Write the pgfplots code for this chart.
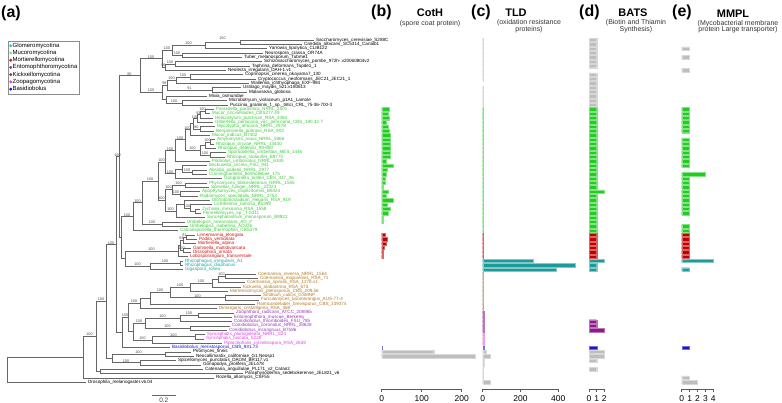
\documentclass[border=0pt]{standalone}
\usepackage{pgfplots}
\pgfplotsset{compat=1.18}
\usepackage{fontspec}
\setmainfont{Liberation Sans}
\definecolor{cMuco}{HTML}{3CC83C}
\definecolor{cMort}{HTML}{CC1111}
\definecolor{cGlom}{HTML}{1FA3A3}
\definecolor{cEnto}{HTML}{9933BB}
\definecolor{cKick}{HTML}{B07828}
\definecolor{cZoop}{HTML}{E040E0}
\definecolor{cBasi}{HTML}{1010CC}
\definecolor{bGray}{HTML}{BEBEBE}
\definecolor{bGreen}{HTML}{22CC22}
\definecolor{bRed}{HTML}{C00000}
\definecolor{bCyan}{HTML}{1E9A9A}
\definecolor{bPurp}{HTML}{8B1A8B}
\definecolor{bBlue}{HTML}{1515CC}
\definecolor{bBrown}{HTML}{A07840}
\definecolor{bPink}{HTML}{E060E0}
\definecolor{lGlom}{HTML}{40C4C4}
\definecolor{lMuco}{HTML}{8EE68E}
\definecolor{lMort}{HTML}{CC2222}
\definecolor{lEnto}{HTML}{7B3F8F}
\definecolor{lKick}{HTML}{6E4518}
\definecolor{lZoop}{HTML}{E040C0}
\definecolor{lBasi}{HTML}{1010CC}
\tikzset{lfs/.style={anchor=west,inner sep=0.4bp,font=\fontsize{4.6}{4.6}\selectfont},
 bss/.style={anchor=south,inner sep=0.2bp,font=\fontsize{3.8}{3.8}\selectfont,text=black!70}}
\newcommand\lf[4][black]{\node[lfs,text=#1] at (axis cs:#2,-#3) {#4};}
\newcommand\bs[3]{\node[bss] at (axis cs:#1,-#2) {#3};}
\pgfplotsset{
 barax/.style={scale only axis, height=351.16bp, ymin=-81.6, ymax=-0.5, xmin=0,
  enlargelimits=false, clip=false, axis x line*=bottom, axis y line=none, ytick=\empty,
  x axis line style={-,black!65,line width=0.45bp}, tick style={black!65,line width=0.45bp},
  tick align=outside, major tick length=3bp, xbar, bar width=0.8, bar shift=0pt,
  tick label style={font=\fontsize{8.5}{9}\selectfont},
  /pgf/number format/assume math mode=true, anchor=north west},
 gB/.style={fill=bGray, draw=bGray!60!white, line width=0.3bp},
 grB/.style={fill=bGreen, draw=bGreen!55!white, line width=0.3bp},
 rB/.style={fill=bRed, draw=bRed!60!white, line width=0.3bp},
 cB/.style={fill=bCyan, draw=bCyan!55!white, line width=0.3bp},
 pB/.style={fill=bPurp, draw=bPurp!60!white, line width=0.3bp},
 bB/.style={fill=bBlue, draw=bBlue!60!white, line width=0.3bp},
 brB/.style={fill=bBrown, draw=bBrown!60!white, line width=0.3bp},
 pkB/.style={fill=bPink, draw=bPink!60!white, line width=0.3bp},
}
\begin{document}
\begin{tikzpicture}
\useasboundingbox (0,0) rectangle (782bp,403bp);
% ---------------- tree ----------------
\begin{axis}[scale only axis, width=380bp, height=351.16bp, at={(0bp,365.17bp)}, anchor=north west,
 xmin=0, xmax=380, ymin=-81.6, ymax=-0.5, hide axis, clip=false,
 legend style={at={(axis cs:7.8,-1.2)}, anchor=north west, draw=black!45, line width=0.4bp,
  font=\fontsize{6}{6}\selectfont, inner xsep=1.5bp, inner ysep=1.2bp, row sep=0.2bp,
  cells={anchor=west}, nodes={inner sep=0.6bp}},
 legend image code/.code={\draw[#1] plot[mark=*, mark size=1.25bp] coordinates {(0.06cm,0cm)};}]
\addplot[forget plot, black!60, line width=0.4bp, mark=none, unbounded coords=jump] coordinates {
(314,-1) (240,-1) (240,-2) (302,-2) (nan,nan)
(240,-1.5) (205,-1.5) (205,-3) (267,-3) (nan,nan)
(263,-4) (182,-4) (182,-5) (242,-5) (nan,nan)
(205,-2.25) (172,-2.25) (172,-4.5) (182,-4.5) (nan,nan)
(262,-6) (175,-6) (175,-7) (250,-7) (nan,nan)
(175,-6.5) (165,-6.5) (165,-8) (226,-8) (nan,nan)
(172,-3.375) (162,-3.375) (162,-7.25) (165,-7.25) (nan,nan)
(243,-9) (190,-9) (190,-10) (256,-10) (nan,nan)
(190,-9.5) (176,-9.5) (176,-11) (249,-11) (nan,nan)
(241,-12) (212,-12) (212,-13) (247,-13) (nan,nan)
(176,-10.25) (167,-10.25) (167,-12.5) (212,-12.5) (nan,nan)
(227,-15) (182,-15) (182,-16) (228,-16) (nan,nan)
(207,-14) (166,-14) (166,-15.5) (182,-15.5) (nan,nan)
(167,-11.375) (162,-11.375) (162,-14.75) (166,-14.75) (nan,nan)
(162,-5.31) (140,-5.31) (140,-13.06) (162,-13.06) (nan,nan)
(214,-17) (205,-17) (205,-18) (210,-18) (nan,nan)
(205,-17.5) (200,-17.5) (200,-19) (213,-19) (nan,nan)
(200,-18.25) (197,-18.25) (197,-20) (213,-20) (nan,nan)
(215,-21) (200,-21) (200,-22) (214,-22) (nan,nan)
(197,-19.125) (193,-19.125) (193,-21.5) (200,-21.5) (nan,nan)
(193,-20.31) (190,-20.31) (190,-23) (210,-23) (nan,nan)
(215,-24) (210,-24) (210,-25) (214,-25) (nan,nan)
(210,-24.5) (205,-24.5) (205,-26) (216,-26) (nan,nan)
(226,-27) (210,-27) (210,-28) (225,-28) (nan,nan)
(205,-25.25) (200,-25.25) (200,-27.5) (210,-27.5) (nan,nan)
(190,-21.66) (185,-21.66) (185,-26.375) (200,-26.375) (nan,nan)
(185,-24.02) (175,-24.02) (175,-29) (210,-29) (nan,nan)
(207,-31) (192,-31) (192,-32) (207,-32) (nan,nan)
(207,-30) (182,-30) (182,-31.5) (192,-31.5) (nan,nan)
(182,-30.75) (175,-30.75) (175,-33) (222,-33) (nan,nan)
(175,-26.51) (165,-26.51) (165,-31.875) (175,-31.875) (nan,nan)
(207,-34) (185,-34) (185,-35) (209,-35) (nan,nan)
(200,-36) (180,-36) (180,-37) (198,-37) (nan,nan)
(185,-34.5) (172,-34.5) (172,-36.5) (180,-36.5) (nan,nan)
(200,-40) (195,-40) (195,-41) (201,-41) (nan,nan)
(212,-39) (190,-39) (190,-40.5) (195,-40.5) (nan,nan)
(210,-38) (184,-38) (184,-39.75) (190,-39.75) (nan,nan)
(184,-38.875) (176,-38.875) (176,-42) (205,-42) (nan,nan)
(172,-35.5) (165,-35.5) (165,-40.44) (176,-40.44) (nan,nan)
(165,-29.19) (158,-29.19) (158,-37.97) (165,-37.97) (nan,nan)
(185,-43) (162,-43) (162,-44) (188,-44) (nan,nan)
(158,-33.58) (142,-33.58) (142,-43.5) (162,-43.5) (nan,nan)
(142,-38.54) (133,-38.54) (133,-45) (178,-45) (nan,nan)
(195,-46) (186,-46) (186,-47) (197,-47) (nan,nan)
(186,-46.5) (183,-46.5) (183,-48) (196,-48) (nan,nan)
(191,-49) (183,-49) (183,-50) (191,-50) (nan,nan)
(183,-47.25) (180,-47.25) (180,-49.5) (183,-49.5) (nan,nan)
(180,-48.375) (178,-48.375) (178,-51) (188,-51) (nan,nan)
(183,-52) (180,-52) (180,-53) (183,-53) (nan,nan)
(180,-52.5) (150,-52.5) (150,-54) (183,-54) (nan,nan)
(178,-49.69) (125,-49.69) (125,-53.25) (150,-53.25) (nan,nan)
(133,-41.77) (121,-41.77) (121,-51.47) (125,-51.47) (nan,nan)
(140,-9.19) (119,-9.19) (119,-46.62) (121,-46.62) (nan,nan)
(256,-55) (225,-55) (225,-56) (258,-56) (nan,nan)
(225,-55.5) (218,-55.5) (218,-57) (245,-57) (nan,nan)
(218,-56.25) (212,-56.25) (212,-58) (241,-58) (nan,nan)
(212,-57.125) (190,-57.125) (190,-59) (228,-59) (nan,nan)
(261,-60) (225,-60) (225,-61) (259,-61) (nan,nan)
(190,-58.06) (170,-58.06) (170,-60.5) (225,-60.5) (nan,nan)
(170,-59.28) (150,-59.28) (150,-62) (255,-62) (nan,nan)
(150,-60.64) (140,-60.64) (140,-63) (217,-63) (nan,nan)
(234,-64) (198,-64) (198,-65) (232,-65) (nan,nan)
(198,-64.5) (180,-64.5) (180,-66) (232,-66) (nan,nan)
(230,-67) (190,-67) (190,-68) (227,-68) (nan,nan)
(180,-65.25) (145,-65.25) (145,-67.5) (190,-67.5) (nan,nan)
(205,-69) (195,-69) (195,-70) (204,-70) (nan,nan)
(195,-69.5) (152,-69.5) (152,-71) (222,-71) (nan,nan)
(145,-66.375) (133,-66.375) (133,-70.25) (152,-70.25) (nan,nan)
(140,-61.82) (128,-61.82) (128,-68.31) (133,-68.31) (nan,nan)
(128,-65.07) (122,-65.07) (122,-72) (170,-72) (nan,nan)
(119,-27.9) (116,-27.9) (116,-68.53) (122,-68.53) (nan,nan)
(191,-73) (165,-73) (165,-74) (194,-74) (nan,nan)
(176,-75) (140,-75) (140,-76) (201,-76) (nan,nan)
(165,-73.5) (112,-73.5) (112,-75.5) (140,-75.5) (nan,nan)
(116,-48.22) (106,-48.22) (106,-74.5) (112,-74.5) (nan,nan)
(203,-77) (100,-77) (100,-78) (243,-78) (nan,nan)
(106,-61.36) (96,-61.36) (96,-77.5) (100,-77.5) (nan,nan)
(96,-69.43) (83,-69.43) (83,-79) (214,-79) (nan,nan)
(83,-74.22) (7,-74.22) (7,-80) (86,-80)
};
\addplot[forget plot, black!60, line width=0.5bp, mark=none] coordinates {(151.7,-82.99) (176,-82.99)};
\node[font=\fontsize{6.5}{6.5}\selectfont, text=black!75, inner sep=0] at (axis cs:163.8,-84.1) {0.2};
\addlegendimage{lGlom}\addlegendentry{Glomeromycotina}
\addlegendimage{lMuco}\addlegendentry{Mucoromycotina}
\addlegendimage{lMort}\addlegendentry{Mortierellomycotina}
\addlegendimage{lEnto}\addlegendentry{Entomophthoromycotina}
\addlegendimage{lKick}\addlegendentry{Kickxellomycotina}
\addlegendimage{lZoop}\addlegendentry{Zoopagomycotina}
\addlegendimage{lBasi}\addlegendentry{Basidiobolus}
% leaf labels
\lf{315.5}{1}{Saccharomyces\_cerevisiae\_S288C}
\lf{303.5}{2}{Candida\_albicans\_SC5314\_Canalb1}
\lf{268.5}{3}{Yarrowia\_lipolytica\_CLIB122}
\lf{264.5}{4}{Neurospora\_crassa\_OR74A}
\lf{243.5}{5}{Tuber\_melanosporum\_Tubme1}
\lf{263.5}{6}{Schizosaccharomyces\_pombe\_972h-.v20060804v2}
\lf{251.5}{7}{Taphrina\_deformans\_Tapde1\_1}
\lf{227.5}{8}{Neolecta\_irregularis\_DAH-1.v1}
\lf{244.5}{9}{Coprinopsis\_cinerea\_okayama7\_130}
\lf{257.5}{10}{Cryptococcus\_neoformans\_JEC21\_JEC21\_1}
\lf{250.5}{11}{Wallemia\_ichthyophaga\_EXF-994}
\lf{242.5}{12}{Ustilago\_maydis\_521.v180613}
\lf{248.5}{13}{Malassezia\_globosa}
\lf{208.5}{14}{Mixia\_osmundae}
\lf{228.5}{15}{Microbotryum\_violaceum\_p1A1\_Lamole}
\lf{229.5}{16}{Puccinia\_graminis\_f.\_sp.\_tritici\_CRL\_75-36-700-3}
\lf[cMuco]{215.5}{17}{Parasitella\_parasitica\_NRRL\_2501}
\lf[cMuco]{211.5}{18}{Mucor\_circinelloides\_CBS277.49}
\lf[cMuco]{214.5}{19}{Helicostylum\_pulchrum\_RSA\_2064}
\lf[cMuco]{214.5}{20}{Gilbertella\_persicaria\_var.\_persicaria\_CBS\_190.32-T}
\lf[cMuco]{216.5}{21}{Mycotypha\_africana\_NRRL\_2978}
\lf[cMuco]{215.5}{22}{Benjaminiella\_poitrasii\_RSA\_903}
\lf[cMuco]{211.5}{23}{Mucor\_indicus\_B7402}
\lf[cMuco]{216.5}{24}{Amylomyces\_rouxii\_NRRL\_5866}
\lf[cMuco]{215.5}{25}{Rhizopus\_oryzae\_NRRL\_13440}
\lf[cMuco]{217.5}{26}{Rhizopus\_delemar\_99-880}
\lf[cMuco]{227.5}{27}{Sporodiniella\_umbellata\_MES\_1446}
\lf[cMuco]{226.5}{28}{Rhizopus\_stolonifer\_B9770}
\lf[cMuco]{211.5}{29}{Pilobolus\_umbonatus\_NRRL\_6349}
\lf[cMuco]{208.5}{30}{Backusella\_circina\_FSU\_941}
\lf[cMuco]{208.5}{31}{Absidia\_padenii\_NRRL\_2977}
\lf[cMuco]{208.5}{32}{Cunninghamella\_bertholletiae\_175}
\lf[cMuco]{223.5}{33}{Gongronella\_butleri\_CBS\_337\_36}
\lf[cMuco]{208.5}{34}{Phycomyces\_blakesleeanus\_NRRL\_1555}
\lf[cMuco]{210.5}{35}{Spinellus\_fusiger\_NRRL\_22323}
\lf[cMuco]{201.5}{36}{Apophysomyces\_trapeziformis\_B9324}
\lf[cMuco]{199.5}{37}{Radiomyces\_spectabilis\_NRRL\_2753}
\lf[cMuco]{211.5}{38}{Dichotomocladium\_elegans\_RSA\_919}
\lf[cMuco]{213.5}{39}{Lichtheimia\_ramosa\_B5399}
\lf[cMuco]{201.5}{40}{Zychaea\_mexicana\_RSA\_1558}
\lf[cMuco]{202.5}{41}{Fennellomyces\_sp.\_T-0311}
\lf[cMuco]{206.5}{42}{Syncephalastrum\_monosporum\_B8922}
\lf[cMuco]{186.5}{43}{Umbelopsis\_ramanniana\_AG\_\#}
\lf[cMuco]{189.5}{44}{Umbelopsis\_isabellina\_AD026}
\lf[cMuco]{179.5}{45}{Calcarisporiella\_thermophila\_CBS279}
\lf[cMort]{196.5}{46}{Linnemannia\_elongata}
\lf[cMort]{198.5}{47}{Podila\_verticillata}
\lf[cMort]{197.5}{48}{Mortierella\_alpina}
\lf[cMort]{192.5}{49}{Gamsiella\_multidivaricata}
\lf[cMort]{192.5}{50}{Dissophora\_ornata}
\lf[cMort]{189.5}{51}{Lobosporangium\_transversale}
\lf[cGlom]{184.5}{52}{Rhizophagus\_irregularis\_A1}
\lf[cGlom]{184.5}{53}{Rhizophagus\_diaphanus}
\lf[cGlom]{184.5}{54}{Gigaspora\_rosea}
\lf[cKick]{257.5}{55}{Coemansia\_reversa\_NRRL\_1564}
\lf[cKick]{259.5}{56}{Coemansia\_mojavensis\_RSA\_71}
\lf[cKick]{246.5}{57}{Coemansia\_spiralis\_RSA\_1278.v1}
\lf[cKick]{242.5}{58}{Kickxella\_alabastrina\_RSA\_675}
\lf[cKick]{229.5}{59}{Martensiomyces\_pterosporus\_CBS\_209.56}
\lf[cKick]{262.5}{60}{Smittium\_culicis\_GSMNP}
\lf[cKick]{260.5}{61}{Furculomyces\_boomerangus\_AUS-77-4}
\lf[cKick]{256.5}{62}{Ramicandelaber\_brevisporus\_CBS\_109374}
\lf[cKick]{218.5}{63}{Dimargaris\_cristalligena\_RSA\_468}
\lf[cEnto]{235.5}{64}{Zoophthora\_radicans\_ATCC\_208865}
\lf[cEnto]{233.5}{65}{Entomophthora\_muscae\_Berkeley}
\lf[cEnto]{233.5}{66}{Conidiobolus\_thromboides\_FSU\_785}
\lf[cEnto]{231.5}{67}{Conidiobolus\_coronatus\_NRRL\_28638}
\lf[cEnto]{228.5}{68}{Conidiobolus\_incongruus\_B7586}
\lf[cZoop]{206.5}{69}{Syncephalis\_plumigaleata\_NRRL\_S24}
\lf[cZoop]{205.5}{70}{Syncephalis\_fuscata\_S228}
\lf[cZoop]{223.5}{71}{Piptocephalis\_cylindrospora\_RSA\_2659}
\lf[cBasi]{171.5}{72}{Basidiobolus\_meristosporus\_CBS\_931.73}
\lf{192.5}{73}{Piromyces\_finnis}
\lf{195.5}{74}{Neocallimastix\_californiae\_G1.Neosp1}
\lf{177.5}{75}{Spizellomyces\_punctatus\_DAOM\_BR117.v1}
\lf{202.5}{76}{Gonapodya\_prolifera\_JEL478}
\lf{204.5}{77}{Catenaria\_anguillulae\_PL171\_v2\_Catan2}
\lf{244.5}{78}{Paraphysoderma\_sedebokerense\_JEL821\_v6}
\lf{215.5}{79}{Rozella\_allomycis\_CSF55}
\lf{87.5}{80}{Drosophila\_melanogaster.v6.04}
% support values
\bs{222.5}{1}{100}\bs{188.5}{2.25}{100}\bs{177}{4.5}{100}\bs{167}{3.375}{100}
\bs{170}{6.5}{100}\bs{163.5}{7.25}{96}\bs{151}{5.31}{100}\bs{183}{9.5}{100}
\bs{171.5}{10.25}{100}\bs{189.5}{12.5}{91}\bs{164.5}{11.375}{98}\bs{174}{15.5}{100}
\bs{151}{13.06}{100}\bs{129.5}{9.19}{80}
\bs{202.5}{17.5}{100}\bs{198.5}{18.25}{93}\bs{195}{19.125}{100}\bs{196.5}{21.5}{80}
\bs{187.5}{21.66}{100}\bs{207.5}{24.5}{100}\bs{205}{27.5}{100}\bs{192.5}{26.375}{100}
\bs{180}{24.02}{100}\bs{170}{26.51}{100}\bs{187}{31.5}{100}\bs{170}{31.875}{100}
\bs{161.5}{29.19}{100}\bs{178.5}{34.5}{100}\bs{176}{36.5}{100}\bs{168.5}{35.5}{100}
\bs{187}{39.75}{100}\bs{170.5}{40.44}{100}\bs{161.5}{37.97}{100}\bs{150}{33.58}{100}
\bs{152}{43.5}{100}\bs{137.5}{38.54}{100}\bs{127}{41.77}{100}
\bs{184.5}{46.5}{91}\bs{181.5}{47.25}{93}\bs{181.5}{49.5}{100}\bs{151.5}{49.69}{100}
\bs{165}{52.5}{100}\bs{137.5}{53.25}{100}\bs{117.5}{27.9}{100}
\bs{221.5}{55.5}{100}\bs{201}{57.125}{100}\bs{180}{58.06}{100}\bs{197.5}{60.5}{100}
\bs{160}{59.28}{100}\bs{134}{61.82}{100}\bs{189}{64.5}{100}\bs{162.5}{65.25}{100}
\bs{167.5}{67.5}{100}\bs{139}{66.375}{100}\bs{173.5}{69.5}{100}\bs{142.5}{70.25}{100}
\bs{125}{65.07}{100}\bs{111}{48.22}{100}\bs{138.5}{73.5}{100}\bs{126}{75.5}{100}
\bs{101}{61.36}{100}\bs{89.5}{69.43}{100}
\end{axis}
% ---------------- (b) CotH ----------------
\begin{axis}[barax, at={(381.7bp,365.17bp)}, width=80bp, xmax=200, xtick={0,100,200}]
\addplot[grB] coordinates {(19,-17) (17,-18) (19,-19) (12,-20) (17,-21) (18,-22) (21,-23) (22,-24) (22,-25) (21,-26) (21,-27) (21,-28) (11,-29) (28,-30) (14,-31) (12,-32) (9,-33) (8,-34) (4,-35) (17,-36) (11,-37) (29,-38) (14,-39) (21,-40) (17,-41) (4,-42) (3,-43)};
\addplot[rB] coordinates {(8,-46) (14,-47) (12,-48) (6,-49) (3,-50) (4,-51)};
\addplot[bB] coordinates {(2,-72)};
\addplot[gB] coordinates {(130,-73) (233,-74)};
\end{axis}
% ---------------- (c) TLD ----------------
\begin{axis}[barax, at={(482.7bp,365.17bp)}, width=75.6bp, xmax=400, xtick={0,200,400}]
\addplot[gB] coordinates {(3,-1) (3,-2) (3,-3) (3,-4) (3,-5) (3,-6) (3,-7) (3,-8) (3,-9) (3,-10) (3,-12) (3,-13) (3,-14) (3,-15) (3,-16)};
\addplot[grB] coordinates {(3,-17) (3,-18) (3,-19) (3,-20) (3,-21) (3,-22) (3,-23) (3,-24) (3,-25) (3,-26) (3,-27) (3,-28) (3,-29) (3,-30) (3,-31) (3,-32) (3,-33) (3,-34) (3,-35) (3,-36) (3,-37) (3,-38) (3,-39) (3,-40) (3,-41) (3,-42) (3,-43) (3,-44) (3,-45)};
\addplot[rB] coordinates {(3,-46) (3,-47) (3,-48) (3,-49) (3,-50) (3,-51)};
\addplot[cB] coordinates {(265,-52) (490,-53) (390,-54)};
\addplot[brB] coordinates {(2,-55) (2,-56) (2,-57) (2,-58) (2,-59) (2,-60) (2,-61) (2,-62) (2,-63)};
\addplot[pB] coordinates {(5,-64) (5,-65) (5,-66) (5,-67) (5,-68)};
\addplot[pkB] coordinates {(5,-69) (5,-70) (5,-71)};
\addplot[bB] coordinates {(8,-72)};
\addplot[gB] coordinates {(20,-73) (42,-74) (7,-75) (7,-76) (2,-77) (3,-78) (2,-79) (42,-80)};
\end{axis}
% ---------------- (d) BATS ----------------
\begin{axis}[barax, at={(589bp,365.17bp)}, width=15.3bp, xmax=2, xtick={0,1,2}]
\addplot[gB] coordinates {(1,-1) (1,-2) (1,-3) (1,-4) (1,-5) (1,-6) (1,-7) (1,-9) (1,-10) (1,-11) (1,-12) (1,-13) (1,-14) (1,-15) (1,-16)};
\addplot[grB] coordinates {(1,-17) (1,-18) (1,-19) (1,-20) (1,-21) (1,-22) (1,-23) (1,-24) (1,-25) (1,-26) (1,-27) (1,-28) (1,-29) (1,-30) (1,-31) (1,-32) (1,-33) (1,-34) (1,-35) (2,-36) (1,-37) (1,-38) (1,-39) (1,-40) (1,-41) (1,-42) (1,-43) (1,-44) (1,-45)};
\addplot[rB] coordinates {(1,-46) (1,-47) (1,-48) (1,-49) (1,-50) (1,-51)};
\addplot[cB] coordinates {(2,-52) (1,-53) (1,-54)};
\addplot[pB] coordinates {(1,-66) (1,-67) (2,-68)};
\addplot[bB] coordinates {(1,-72)};
\addplot[gB] coordinates {(2,-73) (2,-74) (1,-75) (1,-77)};
\end{axis}
% ---------------- (e) MMPL ----------------
\begin{axis}[barax, at={(681.7bp,365.17bp)}, width=31.6bp, xmax=4, xtick={0,1,2,3,4}]
\addplot[gB] coordinates {(1,-3) (1,-5) (1,-8)};
\addplot[grB] coordinates {(1,-17) (1,-18) (1,-19) (1,-20) (1,-21) (1,-22) (1,-24) (1,-25) (1,-26) (1,-27) (1,-28) (1,-29) (1,-30) (3,-32) (1,-33) (1,-34) (1,-35) (1,-36) (1,-37) (1,-38) (1,-39) (1,-40) (1,-41) (1,-44) (1,-45)};
\addplot[rB] coordinates {(1,-46) (1,-47) (1,-48) (1,-49) (1,-50) (1,-51)};
\addplot[cB] coordinates {(4,-52) (1,-54)};
\addplot[bB] coordinates {(1,-72)};
\addplot[gB] coordinates {(1,-79) (2,-80)};
\end{axis}
% ---------------- titles ----------------
\node[anchor=west, font=\fontsize{16}{16}\selectfont\bfseries, inner sep=0] at (1bp,403bp-13.5bp) {(a)};
\node[anchor=west, font=\fontsize{16}{16}\selectfont\bfseries, inner sep=0] at (371bp,403bp-12bp) {(b)};
\node[anchor=west, font=\fontsize{16}{16}\selectfont\bfseries, inner sep=0] at (471bp,403bp-12bp) {(c)};
\node[anchor=west, font=\fontsize{16}{16}\selectfont\bfseries, inner sep=0] at (579bp,403bp-12bp) {(d)};
\node[anchor=west, font=\fontsize{16}{16}\selectfont\bfseries, inner sep=0] at (672bp,403bp-12bp) {(e)};
\node[font=\fontsize{11}{11}\selectfont\bfseries, inner sep=0] at (430bp,403bp-13bp) {CotH};
\node[font=\fontsize{11}{11}\selectfont\bfseries, inner sep=0] at (516bp,403bp-13bp) {TLD};
\node[font=\fontsize{11}{11}\selectfont\bfseries, inner sep=0] at (633bp,403bp-12.5bp) {BATS};
\node[font=\fontsize{11}{11}\selectfont\bfseries, inner sep=0] at (733bp,403bp-13.5bp) {MMPL};
\node[font=\fontsize{7}{7}\selectfont, text=black!80, inner sep=0] at (430bp,403bp-24bp) {(spore coat protein)};
\node[font=\fontsize{7}{7}\selectfont, text=black!80, inner sep=0, align=center] at (529bp,403bp-26.3bp) {(oxidation resistance\\[-0.5bp]proteins)};
\node[font=\fontsize{7}{7}\selectfont, text=black!80, inner sep=0, align=center] at (636bp,403bp-26.3bp) {(Biotin and Thiamin\\[-0.5bp]Synthesis)};
\node[font=\fontsize{7}{7}\selectfont, text=black!80, inner sep=0, align=center] at (738bp,403bp-26.5bp) {(Mycobacterial membrane\\[-0.5bp]protein Large transporter)};
\end{tikzpicture}
\end{document}
